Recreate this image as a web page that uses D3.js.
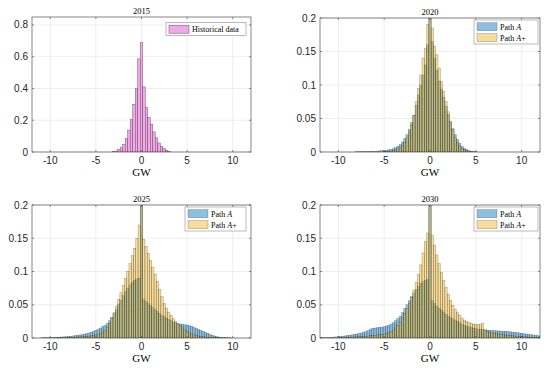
<!DOCTYPE html>
<html>
<head>
<meta charset="utf-8">
<script src="https://cdn.jsdelivr.net/npm/d3@7"></script>
<style>
  body { margin: 0; background: #fff; }
  .tick-label { font-family: "Liberation Sans", Arial, sans-serif; font-size: 10px; fill: #262626; }
  .serif { font-family: "Liberation Serif", "DejaVu Serif", serif; fill: #000; }
</style>
</head>
<body>
<svg id="chart" width="550" height="370"></svg>
<script>
// ---- data ----
var years = ["2015", "2020", "2025", "2030"];
var gwTicks = [-10, -5, 0, 5, 10];
var yTicks2015 = [0, 0.2, 0.4, 0.6, 0.8];
var yTicksPaths = [0, 0.05, 0.1, 0.15, 0.2];
var seriesNames = ["Historical data", "Path A", "Path A+"];

// historical 2015, bin width 0.275 GW, first bin centre -3.025
var binW2015 = 0.275;
var first2015 = -3.025;
var hist2015 = [0.004, 0.006, 0.015, 0.027, 0.047, 0.085, 0.138, 0.205, 0.30, 0.40, 0.586,
  0.688, 0.41, 0.28, 0.216, 0.174, 0.127, 0.089, 0.057, 0.036, 0.023, 0.01, 0.005];

// scenario paths, bin width 0.25 GW
var binW = 0.25;

var first2020A = -8;
var path2020A = [0.0005, 0.0005, 0.0006, 0.0007, 0.0008, 0.0009, 0.001, 0.0011, 0.0012, 0.0014,
  0.0016, 0.0019, 0.0022, 0.0027, 0.0033, 0.004, 0.005, 0.0065, 0.0085, 0.011,
  0.015, 0.02, 0.026, 0.034, 0.044, 0.055, 0.07, 0.085, 0.1, 0.115,
  0.13, 0.16, 0.2, 0.165, 0.14, 0.122, 0.106, 0.094, 0.082, 0.068,
  0.056, 0.045, 0.035, 0.026, 0.019, 0.013, 0.0085, 0.0055, 0.0035, 0.002,
  0.0012, 0.0007, 0.0004];
var first2020B = -5;
var path2020B = [0.0005, 0.0007, 0.001, 0.0014, 0.002, 0.003, 0.0045, 0.0065, 0.0095, 0.014,
  0.021, 0.03, 0.04, 0.055, 0.075, 0.095, 0.115, 0.14, 0.155, 0.19,
  0.2, 0.185, 0.158, 0.145, 0.125, 0.105, 0.09, 0.075, 0.06, 0.046,
  0.033, 0.022, 0.014, 0.009, 0.0055, 0.0035, 0.002, 0.0012, 0.0007];

var first2025A = -11;
var path2025A = [0.0003, 0.0004, 0.0005, 0.0006, 0.0007, 0.0008, 0.001, 0.0011, 0.0013, 0.0015,
  0.0017, 0.002, 0.0023, 0.0027, 0.0031, 0.0036, 0.0041, 0.0046, 0.005, 0.0058,
  0.0067, 0.0077, 0.0088, 0.01, 0.0115, 0.013, 0.015, 0.017, 0.019, 0.022,
  0.026, 0.031, 0.037, 0.043, 0.05, 0.057, 0.064, 0.07, 0.075, 0.08,
  0.084, 0.087, 0.089, 0.09, 0.2, 0.058, 0.055, 0.052, 0.049, 0.046,
  0.043, 0.04, 0.037, 0.034, 0.032, 0.03, 0.028, 0.026, 0.024, 0.023,
  0.022, 0.021, 0.0205, 0.02, 0.0195, 0.0185, 0.0175, 0.016, 0.0145, 0.013,
  0.0115, 0.01, 0.0085, 0.007, 0.0055, 0.0042, 0.0031, 0.0022, 0.0015, 0.001,
  0.0007, 0.0005, 0.0003, 0.0002, 0.0001];
var first2025B = -9.25;
var path2025B = [0.0004, 0.0005, 0.0006, 0.0007, 0.0008, 0.0009, 0.001, 0.0011, 0.0012, 0.0014,
  0.0016, 0.0018, 0.002, 0.0023, 0.0027, 0.0032, 0.0038, 0.0045, 0.0055, 0.007,
  0.009, 0.012, 0.016, 0.022, 0.029, 0.038, 0.048, 0.058, 0.068, 0.079,
  0.09, 0.1, 0.112, 0.124, 0.135, 0.15, 0.17, 0.2, 0.148, 0.138,
  0.127, 0.117, 0.106, 0.096, 0.085, 0.073, 0.062, 0.052, 0.045, 0.039,
  0.034, 0.029, 0.025, 0.021, 0.018, 0.015, 0.012, 0.0095, 0.0075, 0.006,
  0.0048, 0.0038, 0.003, 0.0024, 0.0019, 0.0015, 0.0012, 0.001, 0.0008, 0.0006,
  0.0005, 0.0004, 0.0003, 0.0002, 0.0002, 0.0001, 0.0001];

var first2030A = -12;
var path2030A = [0.0004, 0.0005, 0.0006, 0.0008, 0.001, 0.0012, 0.0014, 0.0017, 0.002, 0.0024,
  0.0028, 0.0032, 0.0037, 0.0042, 0.0048, 0.0054, 0.006, 0.0068, 0.0075, 0.0085,
  0.0095, 0.011, 0.013, 0.0145, 0.015, 0.0155, 0.016, 0.016, 0.017, 0.018,
  0.019, 0.021, 0.023, 0.026, 0.029, 0.033, 0.038, 0.044, 0.05, 0.056,
  0.062, 0.068, 0.073, 0.078, 0.082, 0.085, 0.087, 0.088, 0.2, 0.056,
  0.052, 0.048, 0.045, 0.042, 0.039, 0.036, 0.033, 0.031, 0.029, 0.027,
  0.025, 0.023, 0.021, 0.019, 0.018, 0.017, 0.016, 0.015, 0.014, 0.0135,
  0.013, 0.0125, 0.012, 0.0118, 0.0115, 0.0113, 0.011, 0.0108, 0.0106, 0.0104,
  0.0102, 0.01, 0.0097, 0.0093, 0.009, 0.0085, 0.008, 0.0075, 0.007, 0.0065,
  0.006, 0.0055, 0.005, 0.0045, 0.004, 0.0035, 0.003];
var first2030B = -9.75;
var path2030B = [0.0008, 0.0009, 0.001, 0.0011, 0.0012, 0.0013, 0.0015, 0.0017, 0.0019, 0.0021,
  0.0024, 0.0027, 0.003, 0.0034, 0.0038, 0.0042, 0.0046, 0.005, 0.0055, 0.006,
  0.0065, 0.0078, 0.0095, 0.012, 0.015, 0.019, 0.024, 0.03, 0.037, 0.044,
  0.052, 0.061, 0.072, 0.084, 0.096, 0.11, 0.128, 0.145, 0.158, 0.2,
  0.155, 0.14, 0.125, 0.112, 0.099, 0.087, 0.076, 0.066, 0.057, 0.049,
  0.043, 0.038, 0.034, 0.03, 0.027, 0.025, 0.023, 0.022, 0.021, 0.02,
  0.02, 0.02, 0.022, 0.013, 0.0095, 0.0085, 0.0078, 0.007, 0.0064, 0.0058,
  0.0053, 0.0048, 0.0044, 0.004, 0.0036, 0.0032, 0.0029, 0.0026, 0.0023, 0.002,
  0.0018, 0.0016, 0.0014, 0.0012, 0.001, 0.0009, 0.0008, 0.0007, 0.0006];

// ---- layout ----
var svg = d3.select('#chart');
var pink = "#f0a8e6", blue = "#0072BD", gold = "#EDB120";

var panels = [
  {title: years[0], l: 32, r: 251, t: 17, b: 152, ymax: 0.85, yticks: yTicks2015,
   series: [{first: first2015, w: binW2015, vals: hist2015, fill: pink, op: 1, edge: "#5e3a58"}],
   legend: {x: 166, y: 22.5, w: 80, rows: [0]}},
  {title: years[1], l: 320, r: 540, t: 18, b: 152, ymax: 0.2, yticks: yTicksPaths,
   series: [{first: first2020A, w: binW, vals: path2020A, fill: blue, op: 0.45},
            {first: first2020B, w: binW, vals: path2020B, fill: gold, op: 0.45}],
   legend: {x: 474, y: 20, w: 64, rows: [1, 2]}},
  {title: years[2], l: 32, r: 251, t: 205, b: 338, ymax: 0.2, yticks: yTicksPaths,
   series: [{first: first2025A, w: binW, vals: path2025A, fill: blue, op: 0.45},
            {first: first2025B, w: binW, vals: path2025B, fill: gold, op: 0.45}],
   legend: {x: 185, y: 207, w: 61, rows: [1, 2]}},
  {title: years[3], l: 320, r: 540, t: 205, b: 338, ymax: 0.2, yticks: yTicksPaths,
   series: [{first: first2030A, w: binW, vals: path2030A, fill: blue, op: 0.45},
            {first: first2030B, w: binW, vals: path2030B, fill: gold, op: 0.45}],
   legend: {x: 474, y: 207, w: 64, rows: [1, 2]}}
];

var legendStyle = [
  {fill: pink, op: 1, edge: "#5e3a58"},
  {fill: blue, op: 0.45, edge: "#000"},
  {fill: gold, op: 0.45, edge: "#000"}
];

panels.forEach(function(p, i) {
  var x = d3.scaleLinear().domain([-12, 12]).range([p.l, p.r]);
  var y = d3.scaleLinear().domain([0, p.ymax]).range([p.b, p.t]);
  var g = svg.append('g');

  g.append('clipPath').attr('id', 'clip' + i)
    .append('rect').attr('x', p.l).attr('y', p.t)
    .attr('width', p.r - p.l).attr('height', p.b - p.t);

  // grid
  g.selectAll('.vg').data(gwTicks).enter().append('line')
    .attr('x1', x).attr('x2', x).attr('y1', p.t).attr('y2', p.b)
    .attr('stroke', '#e6e6e6').attr('stroke-width', 0.7);
  g.selectAll('.hg').data(p.yticks).enter().append('line')
    .attr('x1', p.l).attr('x2', p.r).attr('y1', y).attr('y2', y)
    .attr('stroke', '#e6e6e6').attr('stroke-width', 0.7);

  // bars
  var bars = g.append('g').attr('clip-path', 'url(#clip' + i + ')');
  p.series.forEach(function(s) {
    var rows = s.vals.map(function(v, k) { return {c: s.first + k * s.w, v: v}; });
    bars.append('g').selectAll('rect').data(rows).enter().append('rect')
      .attr('x', function(d) { return x(d.c - s.w / 2); })
      .attr('width', function(d) { return x(d.c + s.w / 2) - x(d.c - s.w / 2); })
      .attr('y', function(d) { return y(Math.min(d.v, p.ymax)); })
      .attr('height', function(d) { return y(0) - y(Math.min(d.v, p.ymax)); })
      .attr('fill', s.fill).attr('fill-opacity', s.op)
      .attr('stroke', s.edge || '#000').attr('stroke-opacity', s.edge ? 0.9 : 0.4)
      .attr('stroke-width', 0.45);
  });

  // ticks (inside)
  g.selectAll('.xt').data(gwTicks).enter().append('line')
    .attr('x1', x).attr('x2', x).attr('y1', p.b).attr('y2', p.b - 2)
    .attr('stroke', '#262626').attr('stroke-width', 0.5);
  g.selectAll('.xt2').data(gwTicks).enter().append('line')
    .attr('x1', x).attr('x2', x).attr('y1', p.t).attr('y2', p.t + 2)
    .attr('stroke', '#262626').attr('stroke-width', 0.5);
  g.selectAll('.yt').data(p.yticks).enter().append('line')
    .attr('x1', p.l).attr('x2', p.l + 2).attr('y1', y).attr('y2', y)
    .attr('stroke', '#262626').attr('stroke-width', 0.5);
  g.selectAll('.yt2').data(p.yticks).enter().append('line')
    .attr('x1', p.r).attr('x2', p.r - 2).attr('y1', y).attr('y2', y)
    .attr('stroke', '#262626').attr('stroke-width', 0.5);

  // box
  g.append('rect').attr('x', p.l).attr('y', p.t)
    .attr('width', p.r - p.l).attr('height', p.b - p.t)
    .attr('fill', 'none').attr('stroke', '#555').attr('stroke-width', 0.7);

  // tick labels
  g.selectAll('.xl').data(gwTicks).enter().append('text')
    .attr('class', 'tick-label')
    .attr('x', x).attr('y', p.b + 12)
    .attr('text-anchor', 'middle')
    .text(function(d) { return d; });
  g.selectAll('.yl').data(p.yticks).enter().append('text')
    .attr('class', 'tick-label')
    .attr('x', p.l - 4).attr('y', function(d) { return y(d) + 3.5; })
    .attr('text-anchor', 'end')
    .text(function(d) { return String(d); });

  // title + axis label
  g.append('text').attr('class', 'serif')
    .attr('x', (p.l + p.r) / 2).attr('y', p.t - 3.5)
    .attr('text-anchor', 'middle').attr('font-size', 8.5)
    .text(p.title);
  g.append('text').attr('class', 'serif')
    .attr('x', (p.l + p.r) / 2).attr('y', p.b + 24)
    .attr('text-anchor', 'middle').attr('font-size', 11)
    .text('GW');

  // legend
  var L = p.legend;
  var lh = 2 + L.rows.length * 11;
  var lg = g.append('g');
  lg.append('rect').attr('x', L.x).attr('y', L.y).attr('width', L.w).attr('height', lh)
    .attr('fill', '#fff').attr('stroke', '#8c8c8c').attr('stroke-width', 0.6);
  L.rows.forEach(function(r, j) {
    var st = legendStyle[r];
    var ry = L.y + 1.5 + j * 11;
    lg.append('rect').attr('x', L.x + 3).attr('y', ry + 1.2)
      .attr('width', 20).attr('height', 8)
      .attr('fill', st.fill).attr('fill-opacity', st.op)
      .attr('stroke', st.edge).attr('stroke-opacity', r === 0 ? 0.9 : 0.4)
      .attr('stroke-width', 0.5);
    var t = lg.append('text').attr('class', 'serif')
      .attr('x', L.x + 26).attr('y', ry + 8).attr('font-size', 8);
    if (r === 0) {
      t.text(seriesNames[0]);
    } else {
      t.append('tspan').text('Path ');
      t.append('tspan').attr('font-style', 'italic').text('A');
      if (r === 2) t.append('tspan').text('+');
    }
  });
});
</script>
</body>
</html>
